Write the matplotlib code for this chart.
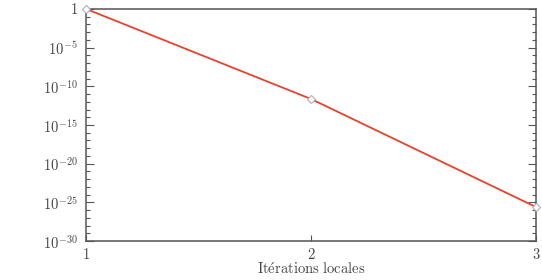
import numpy as np
import matplotlib
matplotlib.use("Agg")
import matplotlib.pyplot as plt
from matplotlib.ticker import FixedLocator, FuncFormatter, NullFormatter

# ------------------------------------------------------------
# DATA
# ------------------------------------------------------------
iterations = [1, 2, 3]
residuals  = [1.0, 2.3e-12, 2.5e-26]

x_ticks     = [1, 2, 3]
y_major_exp = list(range(-30, 1, 5))
y_minor_exp = list(range(-30, 1))

# ------------------------------------------------------------
# STYLE
# ------------------------------------------------------------
plt.rcParams["font.family"] = ["cmr10", "DejaVu Serif"]
plt.rcParams["mathtext.fontset"] = "cm"
plt.rcParams["axes.formatter.use_mathtext"] = True

grey = "#555555"
text_grey = "#444444"
line_red = "#e8412c"


def log_label(v, pos):
    e = int(round(np.log10(v)))
    if e == 0:
        return "1"
    return r"$10^{%d}$" % e


fig = plt.figure(figsize=(5.42, 2.80), dpi=100)
ax = fig.add_axes([0.159, 0.139, 0.830, 0.829])

ax.plot(iterations, residuals, color=line_red, linewidth=1.3,
        marker="D", markersize=4.5, markerfacecolor="white",
        markeredgecolor="#b0b0b0", markeredgewidth=0.8,
        clip_on=False, zorder=3)

ax.set_yscale("log")
ax.set_xlim(1, 3)
ax.set_ylim(1e-30, 1)

ax.xaxis.set_major_locator(FixedLocator(x_ticks))
ax.yaxis.set_major_locator(FixedLocator([10.0 ** e for e in y_major_exp]))
ax.yaxis.set_minor_locator(FixedLocator([10.0 ** e for e in y_minor_exp]))
ax.yaxis.set_major_formatter(FuncFormatter(log_label))
ax.yaxis.set_minor_formatter(NullFormatter())

ax.tick_params(axis="x", which="major", direction="in", length=4,
               width=0.8, color=grey, labelcolor=text_grey,
               labelsize=10.5, pad=4, top=False)
ax.tick_params(axis="y", which="major", direction="in", length=6,
               width=0.8, color=grey, labelcolor=text_grey,
               labelsize=10.5, pad=6, left=True, right=True)
ax.tick_params(axis="y", which="minor", direction="in", length=3,
               width=0.8, color=grey, left=True, right=True)

for s in ax.spines.values():
    s.set_color(grey)
    s.set_linewidth(1.1)

ax.set_xlabel(r"$\mathrm{It\acute{e}rations\ locales}$", fontsize=10.5,
              color=text_grey, labelpad=0)
ax.set_ylabel(r"$\log(\varepsilon)$", fontsize=10.5, color=text_grey,
              labelpad=31)

fig.savefig("out.png", dpi=100)
